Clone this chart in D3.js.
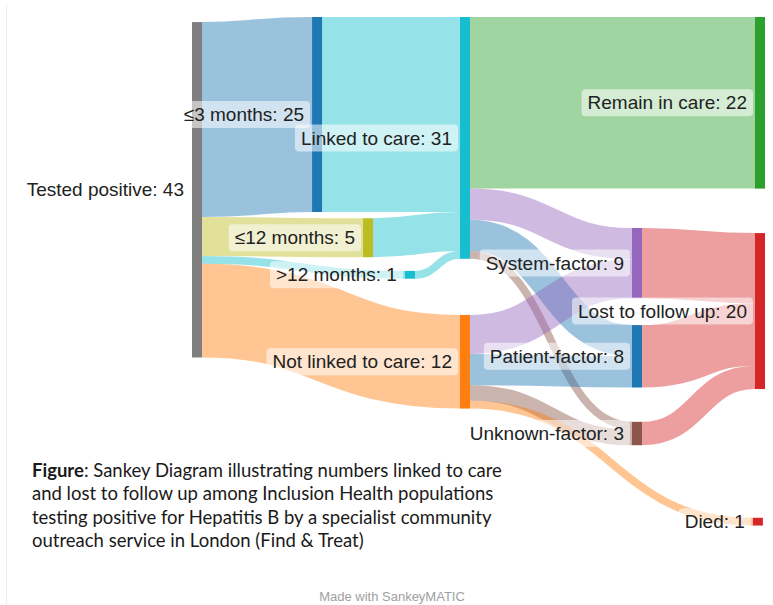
<!DOCTYPE html>
<html>
<head>
<meta charset="utf-8">
<script src="https://cdn.jsdelivr.net/npm/d3@7/dist/d3.min.js"></script>
<style>
  html, body { margin: 0; padding: 0; background: #fff; }
  svg { display: block; }
</style>
</head>
<body>
<svg id="chart" width="773" height="605"></svg>
<script>
// ---- Data ----
const nodeNames = [
  "Tested positive", "≤3 months", "≤12 months", ">12 months",
  "Linked to care", "Not linked to care", "Remain in care",
  "System-factor", "Patient-factor", "Unknown-factor",
  "Lost to follow up", "Died"
];
const flowSource = [
  "Tested positive", "Tested positive", "Tested positive", "Tested positive",
  "≤3 months", "≤12 months", ">12 months",
  "Linked to care", "Linked to care", "Linked to care", "Linked to care",
  "Not linked to care", "Not linked to care", "Not linked to care", "Not linked to care",
  "System-factor", "Patient-factor", "Unknown-factor"
];
const flowTarget = [
  "≤3 months", "≤12 months", ">12 months", "Not linked to care",
  "Linked to care", "Linked to care", "Linked to care",
  "Remain in care", "System-factor", "Patient-factor", "Unknown-factor",
  "System-factor", "Patient-factor", "Unknown-factor", "Died",
  "Lost to follow up", "Lost to follow up", "Lost to follow up"
];
const flowValue = [25, 5, 1, 12, 25, 5, 1, 22, 4, 4, 1, 5, 4, 2, 1, 9, 8, 3];

const captionLines = [
  ["Figure", ": Sankey Diagram illustrating numbers linked to care"],
  ["", "and lost to follow up among Inclusion Health populations"],
  ["", "testing positive for Hepatitis B by a specialist community"],
  ["", "outreach service in London (Find & Treat)"]
];

// ---- Node placement (stage along the flow, top offset in flow units) ----
const nodeStage = {
  "Tested positive": 0, "≤3 months": 0.853, "≤12 months": 1.215, ">12 months": 1.513,
  "Linked to care": 1.904, "Not linked to care": 1.904, "Remain in care": 4,
  "System-factor": 3.126, "Patient-factor": 3.126, "Unknown-factor": 3.126,
  "Lost to follow up": 4, "Died": 3.985
};
const nodeTop = {
  "Tested positive": 0.65, "≤3 months": 0, "≤12 months": 25.8, ">12 months": 32.55,
  "Linked to care": 0, "Not linked to care": 38.2, "Remain in care": 0,
  "System-factor": 27.05, "Patient-factor": 39.5, "Unknown-factor": 51.9,
  "Lost to follow up": 27.7, "Died": 64.2
};
const nodeColor = {
  "Tested positive": "#7f7f7f", "≤3 months": "#1f77b4", "≤12 months": "#bcbd22",
  ">12 months": "#17becf", "Linked to care": "#17becf", "Not linked to care": "#ff7f0e",
  "Remain in care": "#2ca02c", "System-factor": "#9467bd", "Patient-factor": "#1f77b4",
  "Unknown-factor": "#8c564b", "Lost to follow up": "#d62728", "Died": "#d62728"
};
const linkColorOverride = { "Not linked to care→Died": "#ff7f0e" };

const nodeWidth = 10;
const x = d3.scaleLinear().domain([0, 4]).range([192, 755]);
const y = d3.scaleLinear().domain([0, 65]).range([17, 17 + 65 * 7.8]);
const bandW = v => y(v) - y(0);

// ---- Build graph ----
const nodes = nodeNames.map(name => ({ name, out: [], inc: [] }));
const byName = new Map(nodes.map(n => [n.name, n]));
const links = flowValue.map((v, i) => {
  const l = { source: byName.get(flowSource[i]), target: byName.get(flowTarget[i]), value: v };
  l.source.out.push(l); l.target.inc.push(l);
  return l;
});
nodes.forEach(n => {
  n.value = Math.max(d3.sum(n.out, l => l.value), d3.sum(n.inc, l => l.value));
  n.x0 = x(nodeStage[n.name]); n.x1 = n.x0 + nodeWidth;
  n.y0 = y(nodeTop[n.name]); n.y1 = y(nodeTop[n.name] + n.value);
});
nodes.forEach(n => {
  n.out.sort((a, b) => a.target.y0 - b.target.y0);
  n.inc.sort((a, b) => a.source.y0 - b.source.y0);
  let off = n.y0;
  n.out.forEach(l => { l.width = bandW(l.value); l.ys = off + l.width / 2; off += l.width; });
  off = n.y0;
  n.inc.forEach(l => { const w = bandW(l.value); l.yt = off + w / 2; off += w; });
});

const svg = d3.select("#chart");

// faint frame edge
svg.append("line").attr("x1", 6.5).attr("x2", 6.5).attr("y1", 5).attr("y2", 605)
  .attr("stroke", "#eeeeee").attr("stroke-width", 1);

// ---- Links ----
const linkPath = d3.linkHorizontal()
  .source(d => [d.source.x1, d.ys])
  .target(d => [d.target.x0, d.yt]);

svg.append("g").attr("fill", "none")
  .selectAll("path").data(links).join("path")
  .attr("d", linkPath)
  .attr("stroke", d => linkColorOverride[d.source.name + "→" + d.target.name] || nodeColor[d.target.name])
  .attr("stroke-opacity", 0.45)
  .attr("stroke-width", d => d.width);

// ---- Nodes ----
svg.append("g").selectAll("rect").data(nodes).join("rect")
  .attr("x", d => d.x0).attr("y", d => d.y0)
  .attr("width", d => d.x1 - d.x0).attr("height", d => d.y1 - d.y0)
  .attr("fill", d => nodeColor[d.name]);

// ---- Labels with soft highlight boxes ----
const labelG = svg.append("g")
  .attr("font-family", "'Liberation Sans', Arial, Helvetica, sans-serif")
  .attr("font-size", 19).attr("fill", "#222");

nodes.forEach(n => {
  const g = labelG.append("g");
  const t = g.append("text")
    .attr("x", n.x0 - 8)
    .attr("y", (n.y0 + n.y1) / 2)
    .attr("dy", "0.35em")
    .attr("text-anchor", "end")
    .text(`${n.name}: ${n.value}`);
  const bb = t.node().getBBox();
  g.insert("rect", "text")
    .attr("x", bb.x - 6).attr("y", (n.y0 + n.y1) / 2 - 13.5)
    .attr("width", bb.width + 12).attr("height", 27)
    .attr("rx", 4).attr("fill", "#fff").attr("fill-opacity", 0.55);
});

// ---- Caption ----
const cap = svg.append("g")
  .attr("font-family", "Lato, 'Open Sans', sans-serif")
  .attr("font-size", 18.5).attr("fill", "#1a1a1a");
captionLines.forEach((ln, i) => {
  const t = cap.append("text").attr("x", 32).attr("y", 477 + i * 23.4);
  if (ln[0]) t.append("tspan").attr("font-weight", "bold").text(ln[0]);
  t.append("tspan").text(ln[1]);
});

svg.append("text")
  .attr("x", 392).attr("y", 601)
  .attr("text-anchor", "middle")
  .attr("font-family", "'Liberation Sans', Arial, sans-serif")
  .attr("font-size", 13).attr("fill", "#a0a0a0")
  .text("Made with SankeyMATIC");
</script>
</body>
</html>
